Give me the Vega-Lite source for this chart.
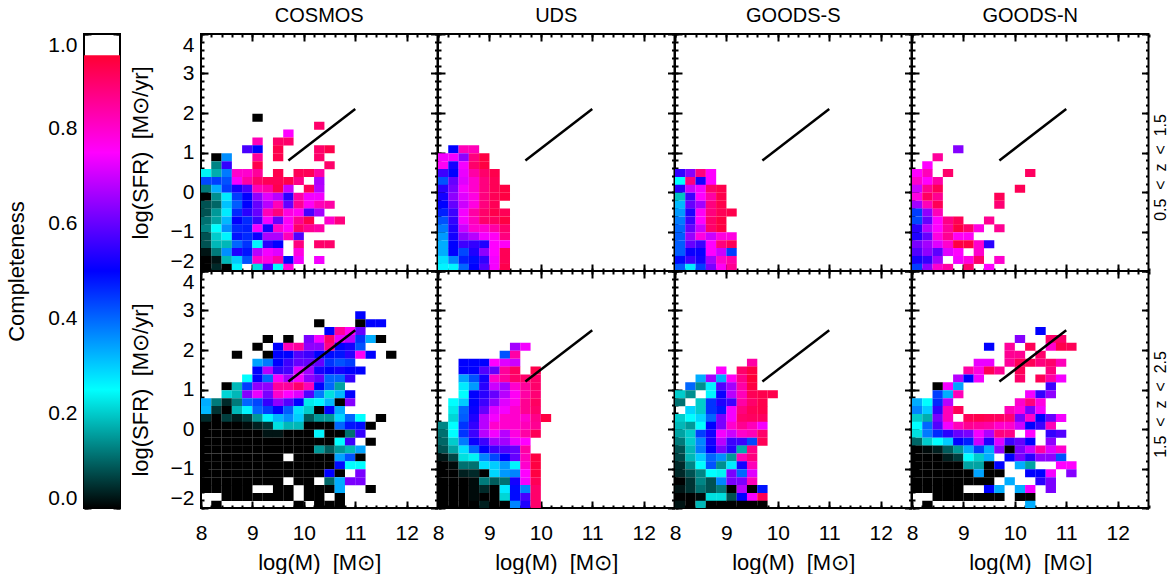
{"$schema":"https://vega.github.io/schema/vega-lite/v6.json","background":"white","padding":{"left":4,"top":5,"right":0,"bottom":0},"config":{"view":{"stroke":"#000","strokeWidth":2},"axis":{"grid":false,"domain":false,"tickColor":"#000","tickWidth":2,"labelFont":"Liberation Sans","labelFontSize":21,"labelColor":"#000","titleFont":"Liberation Sans","titleFontWeight":"normal","titleFontSize":22,"titleColor":"#000","labelOverlap":false,"zindex":1},"title":{"font":"Liberation Sans","fontSize":20,"fontWeight":"normal","color":"#000"}},"datasets":{"o":[{"m":8,"s":0}],"lt":[{"m":9.7,"s":0.8},{"m":11,"s":2.1}],"lb":[{"m":9.7,"s":1.2},{"m":11,"s":2.5}],"bar":[{"a":0,"b":1,"lo":0,"hi":0.955}],
"p1":[{"m":9.1,"s":1.9,"c":0},{"m":10.3,"s":1.7,"c":90},{"m":9.7,"s":1.5,"c":75},{"m":9.1,"s":1.3,"c":82},{"m":9.5,"s":1.3,"c":90},{"m":9.7,"s":1.3,"c":90},{"m":8.9,"s":1.1,"c":57},{"m":9.1,"s":1.1,"c":50},{"m":9.5,"s":1.1,"c":93},{"m":10.3,"s":1.1,"c":90},{"m":10.5,"s":1.1,"c":93},{"m":8.3,"s":0.9,"c":0},{"m":8.5,"s":0.9,"c":36},{"m":9.1,"s":0.9,"c":85},{"m":9.5,"s":0.9,"c":93},{"m":10.3,"s":0.9,"c":90},{"m":8.3,"s":0.7,"c":13},{"m":8.5,"s":0.7,"c":55},{"m":9.1,"s":0.7,"c":93},{"m":10.5,"s":0.7,"c":90},
{"m":8.1,"s":0.5,"c":24},{"m":8.3,"s":0.5,"c":17},{"m":8.5,"s":0.5,"c":38},{"m":8.7,"s":0.5,"c":80},{"m":8.9,"s":0.5,"c":80},{"m":9.1,"s":0.5,"c":85},{"m":9.5,"s":0.5,"c":93},{"m":9.9,"s":0.5,"c":92},{"m":10.1,"s":0.5,"c":92},{"m":10.3,"s":0.5,"c":84},
{"m":8.1,"s":0.3,"c":43},{"m":8.3,"s":0.3,"c":44},{"m":8.5,"s":0.3,"c":42},{"m":8.7,"s":0.3,"c":74},{"m":8.9,"s":0.3,"c":84},{"m":9.1,"s":0.3,"c":90},{"m":9.3,"s":0.3,"c":92},{"m":9.5,"s":0.3,"c":92},{"m":9.7,"s":0.3,"c":93},{"m":9.9,"s":0.3,"c":87},{"m":10.3,"s":0.3,"c":67},
{"m":8.1,"s":0.1,"c":12},{"m":8.3,"s":0.1,"c":33},{"m":8.5,"s":0.1,"c":44},{"m":8.7,"s":0.1,"c":52},{"m":8.9,"s":0.1,"c":57},{"m":9.1,"s":0.1,"c":82},{"m":9.3,"s":0.1,"c":84},{"m":9.5,"s":0.1,"c":93},{"m":9.7,"s":0.1,"c":70},{"m":10.1,"s":0.1,"c":92},{"m":10.3,"s":0.1,"c":68},
{"m":8.1,"s":-0.1,"c":0},{"m":8.3,"s":-0.1,"c":14},{"m":8.5,"s":-0.1,"c":27},{"m":8.7,"s":-0.1,"c":44},{"m":8.9,"s":-0.1,"c":50},{"m":9.1,"s":-0.1,"c":64},{"m":9.3,"s":-0.1,"c":72},{"m":9.5,"s":-0.1,"c":68},{"m":9.7,"s":-0.1,"c":54},{"m":9.9,"s":-0.1,"c":84},{"m":10.1,"s":-0.1,"c":74},{"m":10.3,"s":-0.1,"c":74},
{"m":8.1,"s":-0.3,"c":8},{"m":8.3,"s":-0.3,"c":10},{"m":8.5,"s":-0.3,"c":31},{"m":8.7,"s":-0.3,"c":41},{"m":8.9,"s":-0.3,"c":50},{"m":9.1,"s":-0.3,"c":60},{"m":9.3,"s":-0.3,"c":68},{"m":9.5,"s":-0.3,"c":82},{"m":9.7,"s":-0.3,"c":60},{"m":9.9,"s":-0.3,"c":86},{"m":10.1,"s":-0.3,"c":76},{"m":10.3,"s":-0.3,"c":82},{"m":10.5,"s":-0.3,"c":84},
{"m":8.1,"s":-0.5,"c":8},{"m":8.3,"s":-0.5,"c":15},{"m":8.5,"s":-0.5,"c":27},{"m":8.7,"s":-0.5,"c":46},{"m":8.9,"s":-0.5,"c":54},{"m":9.1,"s":-0.5,"c":60},{"m":9.3,"s":-0.5,"c":82},{"m":9.5,"s":-0.5,"c":88},{"m":9.7,"s":-0.5,"c":78},{"m":9.9,"s":-0.5,"c":76},{"m":10.1,"s":-0.5,"c":57},{"m":10.3,"s":-0.5,"c":66},
{"m":8.1,"s":-0.7,"c":11},{"m":8.3,"s":-0.7,"c":16},{"m":8.5,"s":-0.7,"c":32},{"m":8.7,"s":-0.7,"c":50},{"m":8.9,"s":-0.7,"c":46},{"m":9.1,"s":-0.7,"c":56},{"m":9.3,"s":-0.7,"c":74},{"m":9.5,"s":-0.7,"c":60},{"m":9.7,"s":-0.7,"c":76},{"m":9.9,"s":-0.7,"c":86},{"m":10.1,"s":-0.7,"c":93},{"m":10.5,"s":-0.7,"c":80},{"m":10.7,"s":-0.7,"c":88},
{"m":8.1,"s":-0.9,"c":13},{"m":8.3,"s":-0.9,"c":25},{"m":8.5,"s":-0.9,"c":36},{"m":8.7,"s":-0.9,"c":46},{"m":8.9,"s":-0.9,"c":47},{"m":9.1,"s":-0.9,"c":74},{"m":9.3,"s":-0.9,"c":52},{"m":9.5,"s":-0.9,"c":80},{"m":9.7,"s":-0.9,"c":75},{"m":9.9,"s":-0.9,"c":90},{"m":10.1,"s":-0.9,"c":86},{"m":10.3,"s":-0.9,"c":84},
{"m":8.1,"s":-1.1,"c":8},{"m":8.3,"s":-1.1,"c":20},{"m":8.5,"s":-1.1,"c":26},{"m":8.7,"s":-1.1,"c":48},{"m":8.9,"s":-1.1,"c":46},{"m":9.1,"s":-1.1,"c":51},{"m":9.3,"s":-1.1,"c":67},{"m":9.5,"s":-1.1,"c":67},{"m":9.7,"s":-1.1,"c":82},{"m":9.9,"s":-1.1,"c":58},
{"m":8.1,"s":-1.3,"c":8},{"m":8.3,"s":-1.3,"c":18},{"m":8.5,"s":-1.3,"c":18},{"m":8.7,"s":-1.3,"c":40},{"m":8.9,"s":-1.3,"c":45},{"m":9.1,"s":-1.3,"c":26},{"m":9.3,"s":-1.3,"c":54},{"m":9.5,"s":-1.3,"c":50},{"m":9.9,"s":-1.3,"c":88},{"m":10.3,"s":-1.3,"c":90},{"m":10.5,"s":-1.3,"c":90},
{"m":8.1,"s":-1.5,"c":2},{"m":8.3,"s":-1.5,"c":12},{"m":8.5,"s":-1.5,"c":36},{"m":8.7,"s":-1.5,"c":53},{"m":8.9,"s":-1.5,"c":48},{"m":9.1,"s":-1.5,"c":68},{"m":9.3,"s":-1.5,"c":74},{"m":9.5,"s":-1.5,"c":72},{"m":9.9,"s":-1.5,"c":78},
{"m":8.1,"s":-1.7,"c":0},{"m":8.3,"s":-1.7,"c":2},{"m":8.5,"s":-1.7,"c":18},{"m":8.7,"s":-1.7,"c":30},{"m":8.9,"s":-1.7,"c":42},{"m":9.1,"s":-1.7,"c":80},{"m":9.3,"s":-1.7,"c":78},{"m":9.5,"s":-1.7,"c":84},{"m":9.7,"s":-1.7,"c":49},{"m":9.9,"s":-1.7,"c":74},{"m":10.3,"s":-1.7,"c":74},
{"m":8.1,"s":-1.9,"c":0},{"m":8.3,"s":-1.9,"c":4},{"m":8.5,"s":-1.9,"c":0},{"m":8.7,"s":-1.9,"c":26},{"m":9.1,"s":-1.9,"c":22},{"m":9.3,"s":-1.9,"c":57},{"m":9.5,"s":-1.9,"c":25},{"m":9.7,"s":-1.9,"c":78}],
"p2":[{"m":11.1,"s":2.9,"c":50},{"m":10.3,"s":2.7,"c":0},{"m":11.1,"s":2.7,"c":0},{"m":11.3,"s":2.7,"c":50},{"m":11.5,"s":2.7,"c":50},{"m":10.5,"s":2.5,"c":50},{"m":10.7,"s":2.5,"c":85},{"m":10.9,"s":2.5,"c":76},{"m":11.1,"s":2.5,"c":60},
{"m":9.3,"s":2.3,"c":0},{"m":9.7,"s":2.3,"c":0},{"m":10.1,"s":2.3,"c":62},{"m":10.3,"s":2.3,"c":74},{"m":10.5,"s":2.3,"c":90},{"m":10.7,"s":2.3,"c":73},{"m":10.9,"s":2.3,"c":68},{"m":11.1,"s":2.3,"c":45},{"m":11.3,"s":2.3,"c":33},{"m":11.5,"s":2.3,"c":0},
{"m":9.1,"s":2.1,"c":0},{"m":9.5,"s":2.1,"c":50},{"m":9.7,"s":2.1,"c":82},{"m":9.9,"s":2.1,"c":85},{"m":10.1,"s":2.1,"c":64},{"m":10.3,"s":2.1,"c":64},{"m":10.5,"s":2.1,"c":87},{"m":10.7,"s":2.1,"c":50},{"m":10.9,"s":2.1,"c":52},{"m":11.1,"s":2.1,"c":42},
{"m":8.7,"s":1.9,"c":0},{"m":9.3,"s":1.9,"c":0},{"m":9.5,"s":1.9,"c":50},{"m":9.7,"s":1.9,"c":50},{"m":9.9,"s":1.9,"c":58},{"m":10.1,"s":1.9,"c":56},{"m":10.3,"s":1.9,"c":50},{"m":10.5,"s":1.9,"c":49},{"m":10.7,"s":1.9,"c":48},{"m":10.9,"s":1.9,"c":54},{"m":11.1,"s":1.9,"c":76},{"m":11.3,"s":1.9,"c":50},{"m":11.7,"s":1.9,"c":0},
{"m":9.1,"s":1.7,"c":34},{"m":9.3,"s":1.7,"c":38},{"m":9.5,"s":1.7,"c":50},{"m":9.7,"s":1.7,"c":56},{"m":9.9,"s":1.7,"c":60},{"m":10.1,"s":1.7,"c":60},{"m":10.3,"s":1.7,"c":60},{"m":10.5,"s":1.7,"c":45},{"m":10.7,"s":1.7,"c":42},{"m":10.9,"s":1.7,"c":44},
{"m":9.1,"s":1.5,"c":50},{"m":9.3,"s":1.5,"c":68},{"m":9.5,"s":1.5,"c":55},{"m":9.7,"s":1.5,"c":57},{"m":9.9,"s":1.5,"c":72},{"m":10.1,"s":1.5,"c":66},{"m":10.3,"s":1.5,"c":52},{"m":10.5,"s":1.5,"c":50},{"m":10.7,"s":1.5,"c":52},{"m":10.9,"s":1.5,"c":50},{"m":11.1,"s":1.5,"c":50},
{"m":8.9,"s":1.3,"c":25},{"m":9.1,"s":1.3,"c":50},{"m":9.3,"s":1.3,"c":40},{"m":9.5,"s":1.3,"c":74},{"m":9.7,"s":1.3,"c":66},{"m":9.9,"s":1.3,"c":74},{"m":10.1,"s":1.3,"c":64},{"m":10.3,"s":1.3,"c":60},{"m":10.5,"s":1.3,"c":40},{"m":10.7,"s":1.3,"c":40},{"m":10.9,"s":1.3,"c":55},
{"m":8.5,"s":1.1,"c":0},{"m":8.7,"s":1.1,"c":18},{"m":8.9,"s":1.1,"c":44},{"m":9.1,"s":1.1,"c":64},{"m":9.3,"s":1.1,"c":64},{"m":9.5,"s":1.1,"c":85},{"m":9.7,"s":1.1,"c":85},{"m":9.9,"s":1.1,"c":90},{"m":10.1,"s":1.1,"c":82},{"m":10.3,"s":1.1,"c":50},{"m":10.5,"s":1.1,"c":40},{"m":10.7,"s":1.1,"c":16},
{"m":8.5,"s":0.9,"c":21},{"m":8.7,"s":0.9,"c":18},{"m":8.9,"s":0.9,"c":63},{"m":9.1,"s":0.9,"c":73},{"m":9.3,"s":0.9,"c":62},{"m":9.5,"s":0.9,"c":80},{"m":9.7,"s":0.9,"c":75},{"m":9.9,"s":0.9,"c":72},{"m":10.1,"s":0.9,"c":58},{"m":10.3,"s":0.9,"c":38},{"m":10.5,"s":0.9,"c":22},{"m":10.7,"s":0.9,"c":32},{"m":10.9,"s":0.9,"c":50},
{"m":8.1,"s":0.7,"c":33},{"m":8.3,"s":0.7,"c":12},{"m":8.5,"s":0.7,"c":4},{"m":8.7,"s":0.7,"c":12},{"m":8.9,"s":0.7,"c":40},{"m":9.1,"s":0.7,"c":43},{"m":9.3,"s":0.7,"c":55},{"m":9.5,"s":0.7,"c":64},{"m":9.7,"s":0.7,"c":58},{"m":9.9,"s":0.7,"c":50},{"m":10.1,"s":0.7,"c":23},{"m":10.3,"s":0.7,"c":26},{"m":10.5,"s":0.7,"c":32},{"m":10.7,"s":0.7,"c":0},{"m":10.9,"s":0.7,"c":63},
{"m":8.1,"s":0.5,"c":32},{"m":8.3,"s":0.5,"c":5},{"m":8.5,"s":0.5,"c":0},{"m":8.7,"s":0.5,"c":18},{"m":8.9,"s":0.5,"c":26},{"m":9.1,"s":0.5,"c":40},{"m":9.3,"s":0.5,"c":44},{"m":9.5,"s":0.5,"c":50},{"m":9.7,"s":0.5,"c":41},{"m":9.9,"s":0.5,"c":28},{"m":10.1,"s":0.5,"c":20},{"m":10.3,"s":0.5,"c":0},{"m":10.5,"s":0.5,"c":50},{"m":10.7,"s":0.5,"c":33},
{"m":8.1,"s":0.3,"c":4},{"m":8.3,"s":0.3,"c":0},{"m":8.5,"s":0.3,"c":6},{"m":8.7,"s":0.3,"c":3},{"m":8.9,"s":0.3,"c":6},{"m":9.1,"s":0.3,"c":15},{"m":9.3,"s":0.3,"c":26},{"m":9.5,"s":0.3,"c":32},{"m":9.7,"s":0.3,"c":36},{"m":9.9,"s":0.3,"c":30},{"m":10.1,"s":0.3,"c":9},{"m":10.3,"s":0.3,"c":15},{"m":10.5,"s":0.3,"c":15},{"m":10.7,"s":0.3,"c":29},{"m":10.9,"s":0.3,"c":40},{"m":11.1,"s":0.3,"c":25},{"m":11.5,"s":0.3,"c":0},
{"m":8.1,"s":0.1,"c":0},{"m":8.3,"s":0.1,"c":0},{"m":8.5,"s":0.1,"c":0},{"m":8.7,"s":0.1,"c":0},{"m":8.9,"s":0.1,"c":1},{"m":9.1,"s":0.1,"c":3},{"m":9.3,"s":0.1,"c":5},{"m":9.5,"s":0.1,"c":22},{"m":9.7,"s":0.1,"c":18},{"m":9.9,"s":0.1,"c":18},{"m":10.1,"s":0.1,"c":0},{"m":10.3,"s":0.1,"c":0},{"m":10.5,"s":0.1,"c":0},{"m":10.7,"s":0.1,"c":40},{"m":10.9,"s":0.1,"c":48},{"m":11.1,"s":0.1,"c":49},{"m":11.3,"s":0.1,"c":0},
{"m":8.1,"s":-0.1,"c":0},{"m":8.3,"s":-0.1,"c":0},{"m":8.5,"s":-0.1,"c":0},{"m":8.7,"s":-0.1,"c":0},{"m":8.9,"s":-0.1,"c":0},{"m":9.1,"s":-0.1,"c":0},{"m":9.3,"s":-0.1,"c":2},{"m":9.5,"s":-0.1,"c":2},{"m":9.7,"s":-0.1,"c":0},{"m":9.9,"s":-0.1,"c":0},{"m":10.1,"s":-0.1,"c":0},{"m":10.3,"s":-0.1,"c":26},{"m":10.5,"s":-0.1,"c":0},{"m":10.7,"s":-0.1,"c":0},{"m":10.9,"s":-0.1,"c":11},{"m":11.1,"s":-0.1,"c":55},
{"m":8.1,"s":-0.3,"c":0},{"m":8.3,"s":-0.3,"c":0},{"m":8.5,"s":-0.3,"c":0},{"m":8.7,"s":-0.3,"c":0},{"m":8.9,"s":-0.3,"c":0},{"m":9.1,"s":-0.3,"c":0},{"m":9.3,"s":-0.3,"c":0},{"m":9.5,"s":-0.3,"c":0},{"m":9.7,"s":-0.3,"c":0},{"m":9.9,"s":-0.3,"c":0},{"m":10.1,"s":-0.3,"c":0},{"m":10.3,"s":-0.3,"c":0},{"m":10.5,"s":-0.3,"c":0},{"m":10.7,"s":-0.3,"c":25},{"m":10.9,"s":-0.3,"c":56},{"m":11.3,"s":-0.3,"c":0},
{"m":8.1,"s":-0.5,"c":0},{"m":8.3,"s":-0.5,"c":0},{"m":8.5,"s":-0.5,"c":0},{"m":8.7,"s":-0.5,"c":0},{"m":8.9,"s":-0.5,"c":0},{"m":9.1,"s":-0.5,"c":0},{"m":9.3,"s":-0.5,"c":0},{"m":9.5,"s":-0.5,"c":0},{"m":9.7,"s":-0.5,"c":0},{"m":9.9,"s":-0.5,"c":0},{"m":10.1,"s":-0.5,"c":0},{"m":10.3,"s":-0.5,"c":15},{"m":10.5,"s":-0.5,"c":9},{"m":10.7,"s":-0.5,"c":15},{"m":10.9,"s":-0.5,"c":18},{"m":11.1,"s":-0.5,"c":34},
{"m":8.1,"s":-0.7,"c":0},{"m":8.3,"s":-0.7,"c":0},{"m":8.5,"s":-0.7,"c":0},{"m":8.7,"s":-0.7,"c":0},{"m":8.9,"s":-0.7,"c":0},{"m":9.1,"s":-0.7,"c":0},{"m":9.3,"s":-0.7,"c":0},{"m":9.5,"s":-0.7,"c":0},{"m":9.9,"s":-0.7,"c":0},{"m":10.1,"s":-0.7,"c":0},{"m":10.3,"s":-0.7,"c":0},{"m":10.5,"s":-0.7,"c":0},{"m":10.7,"s":-0.7,"c":34},{"m":10.9,"s":-0.7,"c":42},{"m":11.1,"s":-0.7,"c":0},
{"m":8.1,"s":-0.9,"c":0},{"m":8.3,"s":-0.9,"c":0},{"m":8.5,"s":-0.9,"c":0},{"m":8.7,"s":-0.9,"c":0},{"m":8.9,"s":-0.9,"c":0},{"m":9.1,"s":-0.9,"c":0},{"m":9.3,"s":-0.9,"c":0},{"m":9.5,"s":-0.9,"c":0},{"m":9.7,"s":-0.9,"c":0},{"m":9.9,"s":-0.9,"c":0},{"m":10.1,"s":-0.9,"c":0},{"m":10.3,"s":-0.9,"c":0},{"m":10.5,"s":-0.9,"c":0},{"m":10.7,"s":-0.9,"c":49},{"m":10.9,"s":-0.9,"c":25},{"m":11.1,"s":-0.9,"c":25},
{"m":8.1,"s":-1.1,"c":0},{"m":8.3,"s":-1.1,"c":0},{"m":8.5,"s":-1.1,"c":0},{"m":8.7,"s":-1.1,"c":0},{"m":8.9,"s":-1.1,"c":0},{"m":9.1,"s":-1.1,"c":0},{"m":9.3,"s":-1.1,"c":0},{"m":9.5,"s":-1.1,"c":0},{"m":9.7,"s":-1.1,"c":0},{"m":9.9,"s":-1.1,"c":0},{"m":10.1,"s":-1.1,"c":0},{"m":10.3,"s":-1.1,"c":0},{"m":10.5,"s":-1.1,"c":50},{"m":10.7,"s":-1.1,"c":0},{"m":11.1,"s":-1.1,"c":62},
{"m":8.1,"s":-1.3,"c":0},{"m":8.3,"s":-1.3,"c":0},{"m":8.5,"s":-1.3,"c":0},{"m":8.7,"s":-1.3,"c":0},{"m":8.9,"s":-1.3,"c":0},{"m":9.1,"s":-1.3,"c":0},{"m":9.3,"s":-1.3,"c":0},{"m":9.5,"s":-1.3,"c":0},{"m":9.9,"s":-1.3,"c":0},{"m":10.1,"s":-1.3,"c":0},{"m":10.5,"s":-1.3,"c":10},{"m":10.7,"s":-1.3,"c":33},{"m":10.9,"s":-1.3,"c":62},{"m":11.1,"s":-1.3,"c":62},
{"m":8.1,"s":-1.5,"c":0},{"m":8.3,"s":-1.5,"c":0},{"m":8.5,"s":-1.5,"c":0},{"m":8.7,"s":-1.5,"c":0},{"m":8.9,"s":-1.5,"c":0},{"m":9.5,"s":-1.5,"c":0},{"m":9.7,"s":-1.5,"c":0},{"m":10.1,"s":-1.5,"c":0},{"m":10.3,"s":-1.5,"c":0},{"m":10.5,"s":-1.5,"c":0},{"m":10.7,"s":-1.5,"c":33},{"m":11.3,"s":-1.5,"c":0},
{"m":8.5,"s":-1.7,"c":0},{"m":8.7,"s":-1.7,"c":0},{"m":8.9,"s":-1.7,"c":0},{"m":9.1,"s":-1.7,"c":0},{"m":9.3,"s":-1.7,"c":0},{"m":9.5,"s":-1.7,"c":0},{"m":9.7,"s":-1.7,"c":0},{"m":10.1,"s":-1.7,"c":0},{"m":10.3,"s":-1.7,"c":0},{"m":10.7,"s":-1.7,"c":0},
{"m":8.3,"s":-1.9,"c":0},{"m":9.9,"s":-1.9,"c":0},{"m":10.3,"s":-1.9,"c":0},{"m":10.5,"s":-1.9,"c":0},{"m":10.7,"s":-1.9,"c":0}],
"p3":[{"m":8.3,"s":1.1,"c":50},{"m":8.5,"s":1.1,"c":82},{"m":8.7,"s":1.1,"c":82},{"m":8.1,"s":0.9,"c":74},{"m":8.3,"s":0.9,"c":74},{"m":8.5,"s":0.9,"c":64},{"m":8.7,"s":0.9,"c":88},{"m":8.9,"s":0.9,"c":94},{"m":8.1,"s":0.7,"c":76},{"m":8.3,"s":0.7,"c":52},{"m":8.5,"s":0.7,"c":74},{"m":8.7,"s":0.7,"c":90},{"m":8.9,"s":0.7,"c":94},
{"m":8.1,"s":0.5,"c":56},{"m":8.3,"s":0.5,"c":50},{"m":8.5,"s":0.5,"c":73},{"m":8.7,"s":0.5,"c":84},{"m":8.9,"s":0.5,"c":90},{"m":9.1,"s":0.5,"c":93},{"m":8.1,"s":0.3,"c":42},{"m":8.3,"s":0.3,"c":60},{"m":8.5,"s":0.3,"c":72},{"m":8.7,"s":0.3,"c":80},{"m":8.9,"s":0.3,"c":88},{"m":9.1,"s":0.3,"c":92},
{"m":8.1,"s":0.1,"c":54},{"m":8.3,"s":0.1,"c":62},{"m":8.5,"s":0.1,"c":74},{"m":8.7,"s":0.1,"c":80},{"m":8.9,"s":0.1,"c":88},{"m":9.1,"s":0.1,"c":92},{"m":9.3,"s":0.1,"c":94},{"m":8.1,"s":-0.1,"c":52},{"m":8.3,"s":-0.1,"c":64},{"m":8.5,"s":-0.1,"c":72},{"m":8.7,"s":-0.1,"c":78},{"m":8.9,"s":-0.1,"c":88},{"m":9.1,"s":-0.1,"c":92},{"m":9.3,"s":-0.1,"c":94},
{"m":8.1,"s":-0.3,"c":50},{"m":8.3,"s":-0.3,"c":60},{"m":8.5,"s":-0.3,"c":70},{"m":8.7,"s":-0.3,"c":78},{"m":8.9,"s":-0.3,"c":88},{"m":9.1,"s":-0.3,"c":92},{"m":8.1,"s":-0.5,"c":47},{"m":8.3,"s":-0.5,"c":56},{"m":8.5,"s":-0.5,"c":74},{"m":8.7,"s":-0.5,"c":84},{"m":8.9,"s":-0.5,"c":90},{"m":9.1,"s":-0.5,"c":93},{"m":9.3,"s":-0.5,"c":92},
{"m":8.1,"s":-0.7,"c":42},{"m":8.3,"s":-0.7,"c":55},{"m":8.5,"s":-0.7,"c":74},{"m":8.7,"s":-0.7,"c":82},{"m":8.9,"s":-0.7,"c":90},{"m":9.1,"s":-0.7,"c":91},{"m":9.3,"s":-0.7,"c":94},{"m":8.1,"s":-0.9,"c":38},{"m":8.3,"s":-0.9,"c":53},{"m":8.5,"s":-0.9,"c":70},{"m":8.7,"s":-0.9,"c":80},{"m":8.9,"s":-0.9,"c":80},{"m":9.1,"s":-0.9,"c":84},{"m":9.3,"s":-0.9,"c":90},
{"m":8.1,"s":-1.1,"c":35},{"m":8.3,"s":-1.1,"c":52},{"m":8.5,"s":-1.1,"c":64},{"m":8.7,"s":-1.1,"c":68},{"m":8.9,"s":-1.1,"c":74},{"m":9.1,"s":-1.1,"c":76},{"m":9.3,"s":-1.1,"c":88},{"m":8.1,"s":-1.3,"c":33},{"m":8.3,"s":-1.3,"c":50},{"m":8.5,"s":-1.3,"c":56},{"m":8.7,"s":-1.3,"c":55},{"m":8.9,"s":-1.3,"c":53},{"m":9.1,"s":-1.3,"c":75},{"m":9.3,"s":-1.3,"c":76},
{"m":8.1,"s":-1.5,"c":33},{"m":8.3,"s":-1.5,"c":50},{"m":8.5,"s":-1.5,"c":43},{"m":8.7,"s":-1.5,"c":53},{"m":8.9,"s":-1.5,"c":64},{"m":9.1,"s":-1.5,"c":75},{"m":9.3,"s":-1.5,"c":92},{"m":8.1,"s":-1.7,"c":28},{"m":8.3,"s":-1.7,"c":37},{"m":8.5,"s":-1.7,"c":47},{"m":8.7,"s":-1.7,"c":49},{"m":8.9,"s":-1.7,"c":55},{"m":9.1,"s":-1.7,"c":74},{"m":9.3,"s":-1.7,"c":92},
{"m":8.1,"s":-1.9,"c":26},{"m":8.3,"s":-1.9,"c":26},{"m":8.5,"s":-1.9,"c":40},{"m":8.7,"s":-1.9,"c":50},{"m":8.9,"s":-1.9,"c":58},{"m":9.1,"s":-1.9,"c":74},{"m":9.3,"s":-1.9,"c":93}],
"p4":[{"m":9.5,"s":2.1,"c":66},{"m":9.7,"s":2.1,"c":74},{"m":9.3,"s":1.9,"c":42},{"m":9.5,"s":1.9,"c":84},{"m":8.5,"s":1.7,"c":50},{"m":8.7,"s":1.7,"c":50},{"m":8.9,"s":1.7,"c":50},{"m":9.1,"s":1.7,"c":75},{"m":9.3,"s":1.7,"c":72},{"m":9.5,"s":1.7,"c":70},
{"m":8.5,"s":1.5,"c":50},{"m":8.7,"s":1.5,"c":50},{"m":8.9,"s":1.5,"c":58},{"m":9.1,"s":1.5,"c":60},{"m":9.3,"s":1.5,"c":85},{"m":9.5,"s":1.5,"c":91},{"m":9.9,"s":1.5,"c":93},{"m":8.5,"s":1.3,"c":34},{"m":8.7,"s":1.3,"c":42},{"m":8.9,"s":1.3,"c":52},{"m":9.1,"s":1.3,"c":80},{"m":9.3,"s":1.3,"c":85},{"m":9.5,"s":1.3,"c":90},{"m":9.7,"s":1.3,"c":90},{"m":9.9,"s":1.3,"c":90},
{"m":8.5,"s":1.1,"c":27},{"m":8.7,"s":1.1,"c":35},{"m":8.9,"s":1.1,"c":54},{"m":9.1,"s":1.1,"c":70},{"m":9.3,"s":1.1,"c":66},{"m":9.5,"s":1.1,"c":80},{"m":9.7,"s":1.1,"c":85},{"m":9.9,"s":1.1,"c":90},{"m":8.5,"s":0.9,"c":25},{"m":8.7,"s":0.9,"c":50},{"m":8.9,"s":0.9,"c":54},{"m":9.1,"s":0.9,"c":60},{"m":9.3,"s":0.9,"c":68},{"m":9.5,"s":0.9,"c":76},{"m":9.7,"s":0.9,"c":84},{"m":9.9,"s":0.9,"c":89},
{"m":8.3,"s":0.7,"c":25},{"m":8.5,"s":0.7,"c":30},{"m":8.7,"s":0.7,"c":50},{"m":8.9,"s":0.7,"c":56},{"m":9.1,"s":0.7,"c":64},{"m":9.3,"s":0.7,"c":72},{"m":9.5,"s":0.7,"c":77},{"m":9.7,"s":0.7,"c":86},{"m":9.9,"s":0.7,"c":91},{"m":8.3,"s":0.5,"c":23},{"m":8.5,"s":0.5,"c":40},{"m":8.7,"s":0.5,"c":51},{"m":8.9,"s":0.5,"c":60},{"m":9.1,"s":0.5,"c":72},{"m":9.3,"s":0.5,"c":74},{"m":9.5,"s":0.5,"c":80},{"m":9.7,"s":0.5,"c":86},{"m":9.9,"s":0.5,"c":90},
{"m":8.3,"s":0.3,"c":21},{"m":8.5,"s":0.3,"c":41},{"m":8.7,"s":0.3,"c":53},{"m":8.9,"s":0.3,"c":68},{"m":9.1,"s":0.3,"c":74},{"m":9.3,"s":0.3,"c":80},{"m":9.5,"s":0.3,"c":80},{"m":9.7,"s":0.3,"c":80},{"m":9.9,"s":0.3,"c":87},{"m":10.1,"s":0.3,"c":94},
{"m":8.1,"s":0.1,"c":13},{"m":8.3,"s":0.1,"c":25},{"m":8.5,"s":0.1,"c":45},{"m":8.7,"s":0.1,"c":55},{"m":8.9,"s":0.1,"c":68},{"m":9.1,"s":0.1,"c":80},{"m":9.3,"s":0.1,"c":80},{"m":9.5,"s":0.1,"c":80},{"m":9.7,"s":0.1,"c":82},{"m":9.9,"s":0.1,"c":86},
{"m":8.1,"s":-0.1,"c":11},{"m":8.3,"s":-0.1,"c":25},{"m":8.5,"s":-0.1,"c":45},{"m":8.7,"s":-0.1,"c":56},{"m":8.9,"s":-0.1,"c":68},{"m":9.1,"s":-0.1,"c":74},{"m":9.3,"s":-0.1,"c":68},{"m":9.5,"s":-0.1,"c":78},{"m":9.7,"s":-0.1,"c":84},{"m":9.9,"s":-0.1,"c":92},
{"m":8.1,"s":-0.3,"c":10},{"m":8.3,"s":-0.3,"c":20},{"m":8.5,"s":-0.3,"c":38},{"m":8.7,"s":-0.3,"c":51},{"m":8.9,"s":-0.3,"c":56},{"m":9.1,"s":-0.3,"c":66},{"m":9.3,"s":-0.3,"c":66},{"m":9.5,"s":-0.3,"c":73},{"m":9.7,"s":-0.3,"c":75},
{"m":8.1,"s":-0.5,"c":8},{"m":8.3,"s":-0.5,"c":16},{"m":8.5,"s":-0.5,"c":28},{"m":8.7,"s":-0.5,"c":40},{"m":8.9,"s":-0.5,"c":50},{"m":9.1,"s":-0.5,"c":56},{"m":9.3,"s":-0.5,"c":58},{"m":9.5,"s":-0.5,"c":60},{"m":9.7,"s":-0.5,"c":84},
{"m":8.1,"s":-0.7,"c":2},{"m":8.3,"s":-0.7,"c":7},{"m":8.5,"s":-0.7,"c":22},{"m":8.7,"s":-0.7,"c":24},{"m":8.9,"s":-0.7,"c":37},{"m":9.1,"s":-0.7,"c":43},{"m":9.3,"s":-0.7,"c":50},{"m":9.5,"s":-0.7,"c":60},{"m":9.7,"s":-0.7,"c":82},{"m":9.9,"s":-0.7,"c":94},
{"m":8.1,"s":-0.9,"c":0},{"m":8.3,"s":-0.9,"c":1},{"m":8.5,"s":-0.9,"c":11},{"m":8.7,"s":-0.9,"c":11},{"m":8.9,"s":-0.9,"c":28},{"m":9.1,"s":-0.9,"c":30},{"m":9.3,"s":-0.9,"c":35},{"m":9.5,"s":-0.9,"c":26},{"m":9.7,"s":-0.9,"c":80},{"m":9.9,"s":-0.9,"c":94},
{"m":8.1,"s":-1.1,"c":0},{"m":8.3,"s":-1.1,"c":0},{"m":8.5,"s":-1.1,"c":3},{"m":8.7,"s":-1.1,"c":4},{"m":8.9,"s":-1.1,"c":0},{"m":9.1,"s":-1.1,"c":29},{"m":9.3,"s":-1.1,"c":35},{"m":9.5,"s":-1.1,"c":37},{"m":9.7,"s":-1.1,"c":75},{"m":9.9,"s":-1.1,"c":94},
{"m":8.1,"s":-1.3,"c":0},{"m":8.3,"s":-1.3,"c":0},{"m":8.5,"s":-1.3,"c":0},{"m":8.7,"s":-1.3,"c":1},{"m":8.9,"s":-1.3,"c":12},{"m":9.1,"s":-1.3,"c":9},{"m":9.3,"s":-1.3,"c":11},{"m":9.5,"s":-1.3,"c":52},{"m":9.7,"s":-1.3,"c":74},{"m":9.9,"s":-1.3,"c":92},
{"m":8.1,"s":-1.5,"c":0},{"m":8.3,"s":-1.5,"c":0},{"m":8.5,"s":-1.5,"c":0},{"m":8.7,"s":-1.5,"c":1},{"m":8.9,"s":-1.5,"c":4},{"m":9.1,"s":-1.5,"c":0},{"m":9.3,"s":-1.5,"c":27},{"m":9.5,"s":-1.5,"c":49},{"m":9.7,"s":-1.5,"c":37},{"m":9.9,"s":-1.5,"c":90},
{"m":8.1,"s":-1.7,"c":0},{"m":8.3,"s":-1.7,"c":0},{"m":8.5,"s":-1.7,"c":0},{"m":8.7,"s":-1.7,"c":1},{"m":8.9,"s":-1.7,"c":0},{"m":9.1,"s":-1.7,"c":0},{"m":9.3,"s":-1.7,"c":21},{"m":9.5,"s":-1.7,"c":49},{"m":9.7,"s":-1.7,"c":57},{"m":9.9,"s":-1.7,"c":90},
{"m":8.1,"s":-1.9,"c":0},{"m":8.3,"s":-1.9,"c":0},{"m":8.5,"s":-1.9,"c":0},{"m":8.7,"s":-1.9,"c":0},{"m":8.9,"s":-1.9,"c":3},{"m":9.1,"s":-1.9,"c":0},{"m":9.3,"s":-1.9,"c":0},{"m":9.5,"s":-1.9,"c":37},{"m":9.7,"s":-1.9,"c":53},{"m":9.9,"s":-1.9,"c":90}],
"p5":[{"m":8.1,"s":0.5,"c":55},{"m":8.3,"s":0.5,"c":63},{"m":8.5,"s":0.5,"c":88},{"m":8.7,"s":0.5,"c":75},{"m":8.1,"s":0.3,"c":25},{"m":8.3,"s":0.3,"c":88},{"m":8.5,"s":0.3,"c":52},{"m":8.7,"s":0.3,"c":75},{"m":8.1,"s":0.1,"c":54},{"m":8.3,"s":0.1,"c":70},{"m":8.5,"s":0.1,"c":74},{"m":8.7,"s":0.1,"c":90},{"m":8.9,"s":0.1,"c":93},{"m":8.1,"s":-0.1,"c":19},{"m":8.3,"s":-0.1,"c":56},{"m":8.5,"s":-0.1,"c":75},{"m":8.7,"s":-0.1,"c":84},{"m":8.9,"s":-0.1,"c":93},
{"m":8.1,"s":-0.3,"c":32},{"m":8.3,"s":-0.3,"c":60},{"m":8.5,"s":-0.3,"c":66},{"m":8.7,"s":-0.3,"c":88},{"m":8.9,"s":-0.3,"c":93},{"m":8.1,"s":-0.5,"c":35},{"m":8.3,"s":-0.5,"c":53},{"m":8.5,"s":-0.5,"c":76},{"m":8.7,"s":-0.5,"c":88},{"m":8.9,"s":-0.5,"c":92},{"m":9.1,"s":-0.5,"c":93},{"m":8.1,"s":-0.7,"c":38},{"m":8.3,"s":-0.7,"c":56},{"m":8.5,"s":-0.7,"c":75},{"m":8.7,"s":-0.7,"c":90},{"m":8.9,"s":-0.7,"c":94},
{"m":8.1,"s":-0.9,"c":40},{"m":8.3,"s":-0.9,"c":60},{"m":8.5,"s":-0.9,"c":70},{"m":8.7,"s":-0.9,"c":90},{"m":8.9,"s":-0.9,"c":94},{"m":8.1,"s":-1.1,"c":41},{"m":8.3,"s":-1.1,"c":65},{"m":8.5,"s":-1.1,"c":78},{"m":8.7,"s":-1.1,"c":70},{"m":8.9,"s":-1.1,"c":78},{"m":9.1,"s":-1.1,"c":78},{"m":8.1,"s":-1.3,"c":41},{"m":8.3,"s":-1.3,"c":60},{"m":8.5,"s":-1.3,"c":56},{"m":8.7,"s":-1.3,"c":75},{"m":8.9,"s":-1.3,"c":88},{"m":9.1,"s":-1.3,"c":92},
{"m":8.1,"s":-1.5,"c":41},{"m":8.3,"s":-1.5,"c":51},{"m":8.5,"s":-1.5,"c":51},{"m":8.7,"s":-1.5,"c":75},{"m":8.9,"s":-1.5,"c":70},{"m":9.1,"s":-1.5,"c":44},{"m":8.1,"s":-1.7,"c":49},{"m":8.3,"s":-1.7,"c":56},{"m":8.5,"s":-1.7,"c":52},{"m":8.7,"s":-1.7,"c":66},{"m":8.9,"s":-1.7,"c":80},{"m":9.1,"s":-1.7,"c":84},{"m":8.1,"s":-1.9,"c":41},{"m":8.3,"s":-1.9,"c":27},{"m":8.5,"s":-1.9,"c":44},{"m":8.7,"s":-1.9,"c":62},{"m":8.9,"s":-1.9,"c":76},{"m":9.1,"s":-1.9,"c":86}],
"p6":[{"m":9.5,"s":1.7,"c":84},{"m":8.9,"s":1.5,"c":75},{"m":9.3,"s":1.5,"c":90},{"m":9.5,"s":1.5,"c":94},{"m":8.5,"s":1.3,"c":33},{"m":8.7,"s":1.3,"c":66},{"m":8.9,"s":1.3,"c":33},{"m":9.1,"s":1.3,"c":76},{"m":9.3,"s":1.3,"c":87},{"m":9.5,"s":1.3,"c":95},{"m":8.3,"s":1.1,"c":40},{"m":8.5,"s":1.1,"c":14},{"m":8.7,"s":1.1,"c":26},{"m":8.9,"s":1.1,"c":58},{"m":9.1,"s":1.1,"c":66},{"m":9.3,"s":1.1,"c":84},{"m":9.5,"s":1.1,"c":94},
{"m":8.1,"s":0.9,"c":20},{"m":8.3,"s":0.9,"c":14},{"m":8.7,"s":0.9,"c":26},{"m":8.9,"s":0.9,"c":51},{"m":9.1,"s":0.9,"c":68},{"m":9.3,"s":0.9,"c":82},{"m":9.5,"s":0.9,"c":92},{"m":9.7,"s":0.9,"c":93},{"m":9.9,"s":0.9,"c":93},{"m":8.1,"s":0.7,"c":11},{"m":8.5,"s":0.7,"c":20},{"m":8.7,"s":0.7,"c":45},{"m":8.9,"s":0.7,"c":53},{"m":9.1,"s":0.7,"c":56},{"m":9.3,"s":0.7,"c":84},{"m":9.5,"s":0.7,"c":90},{"m":9.7,"s":0.7,"c":93},
{"m":8.3,"s":0.5,"c":29},{"m":8.5,"s":0.5,"c":20},{"m":8.7,"s":0.5,"c":45},{"m":8.9,"s":0.5,"c":48},{"m":9.1,"s":0.5,"c":74},{"m":9.3,"s":0.5,"c":88},{"m":9.5,"s":0.5,"c":92},{"m":9.7,"s":0.5,"c":93},{"m":8.1,"s":0.3,"c":20},{"m":8.3,"s":0.3,"c":25},{"m":8.5,"s":0.3,"c":29},{"m":8.7,"s":0.3,"c":40},{"m":8.9,"s":0.3,"c":62},{"m":9.1,"s":0.3,"c":74},{"m":9.3,"s":0.3,"c":90},{"m":9.5,"s":0.3,"c":91},{"m":9.7,"s":0.3,"c":91},
{"m":8.1,"s":0.1,"c":18},{"m":8.3,"s":0.1,"c":15},{"m":8.5,"s":0.1,"c":25},{"m":8.7,"s":0.1,"c":50},{"m":8.9,"s":0.1,"c":62},{"m":9.1,"s":0.1,"c":80},{"m":9.3,"s":0.1,"c":86},{"m":9.5,"s":0.1,"c":82},{"m":9.7,"s":0.1,"c":74},{"m":8.1,"s":-0.1,"c":16},{"m":8.3,"s":-0.1,"c":20},{"m":8.5,"s":-0.1,"c":44},{"m":8.7,"s":-0.1,"c":52},{"m":8.9,"s":-0.1,"c":74},{"m":9.1,"s":-0.1,"c":70},{"m":9.3,"s":-0.1,"c":80},{"m":9.5,"s":-0.1,"c":82},{"m":9.7,"s":-0.1,"c":90},
{"m":8.1,"s":-0.3,"c":12},{"m":8.3,"s":-0.3,"c":20},{"m":8.5,"s":-0.3,"c":37},{"m":8.7,"s":-0.3,"c":52},{"m":8.9,"s":-0.3,"c":68},{"m":9.1,"s":-0.3,"c":56},{"m":9.3,"s":-0.3,"c":56},{"m":9.5,"s":-0.3,"c":43},{"m":9.7,"s":-0.3,"c":92},{"m":8.1,"s":-0.5,"c":8},{"m":8.3,"s":-0.5,"c":18},{"m":8.5,"s":-0.5,"c":38},{"m":8.7,"s":-0.5,"c":50},{"m":8.9,"s":-0.5,"c":62},{"m":9.1,"s":-0.5,"c":54},{"m":9.3,"s":-0.5,"c":17},{"m":9.5,"s":-0.5,"c":87},
{"m":8.1,"s":-0.7,"c":7},{"m":8.3,"s":-0.7,"c":18},{"m":8.5,"s":-0.7,"c":30},{"m":8.7,"s":-0.7,"c":40},{"m":8.9,"s":-0.7,"c":36},{"m":9.1,"s":-0.7,"c":15},{"m":9.3,"s":-0.7,"c":82},{"m":9.5,"s":-0.7,"c":88},{"m":8.1,"s":-0.9,"c":4},{"m":8.3,"s":-0.9,"c":13},{"m":8.5,"s":-0.9,"c":25},{"m":8.7,"s":-0.9,"c":42},{"m":8.9,"s":-0.9,"c":14},{"m":9.1,"s":-0.9,"c":27},{"m":9.3,"s":-0.9,"c":52},{"m":9.5,"s":-0.9,"c":82},
{"m":8.1,"s":-1.1,"c":4},{"m":8.3,"s":-1.1,"c":8},{"m":8.5,"s":-1.1,"c":13},{"m":8.7,"s":-1.1,"c":25},{"m":8.9,"s":-1.1,"c":24},{"m":9.1,"s":-1.1,"c":62},{"m":9.3,"s":-1.1,"c":40},{"m":9.5,"s":-1.1,"c":72},{"m":8.1,"s":-1.3,"c":0},{"m":8.3,"s":-1.3,"c":5},{"m":8.5,"s":-1.3,"c":13},{"m":8.7,"s":-1.3,"c":8},{"m":8.9,"s":-1.3,"c":37},{"m":9.1,"s":-1.3,"c":62},{"m":9.3,"s":-1.3,"c":62},{"m":9.5,"s":-1.3,"c":82},
{"m":8.1,"s":-1.5,"c":2},{"m":8.3,"s":-1.5,"c":5},{"m":8.5,"s":-1.5,"c":11},{"m":8.7,"s":-1.5,"c":8},{"m":8.9,"s":-1.5,"c":12},{"m":9.1,"s":-1.5,"c":0},{"m":9.3,"s":-1.5,"c":68},{"m":9.5,"s":-1.5,"c":0},{"m":9.7,"s":-1.5,"c":48},{"m":8.1,"s":-1.7,"c":0},{"m":8.3,"s":-1.7,"c":0},{"m":8.5,"s":-1.7,"c":1},{"m":8.7,"s":-1.7,"c":22},{"m":8.9,"s":-1.7,"c":22},{"m":9.1,"s":-1.7,"c":8},{"m":9.3,"s":-1.7,"c":50},{"m":9.5,"s":-1.7,"c":74},{"m":9.7,"s":-1.7,"c":92},
{"m":8.1,"s":-1.9,"c":2},{"m":8.3,"s":-1.9,"c":0},{"m":8.5,"s":-1.9,"c":18},{"m":8.7,"s":-1.9,"c":0},{"m":8.9,"s":-1.9,"c":0},{"m":9.1,"s":-1.9,"c":0},{"m":9.3,"s":-1.9,"c":0},{"m":9.5,"s":-1.9,"c":0},{"m":9.7,"s":-1.9,"c":0}],
"p7":[{"m":8.9,"s":1.1,"c":63},{"m":8.5,"s":0.9,"c":85},{"m":8.3,"s":0.7,"c":75},{"m":8.1,"s":0.5,"c":75},{"m":8.3,"s":0.5,"c":82},{"m":8.7,"s":0.5,"c":90},{"m":10.3,"s":0.5,"c":91},{"m":8.1,"s":0.3,"c":80},{"m":8.3,"s":0.3,"c":75},{"m":8.5,"s":0.3,"c":84},{"m":8.1,"s":0.1,"c":70},{"m":8.3,"s":0.1,"c":86},{"m":8.5,"s":0.1,"c":92},{"m":10.1,"s":0.1,"c":92},{"m":8.1,"s":-0.1,"c":78},{"m":8.3,"s":-0.1,"c":91},{"m":8.5,"s":-0.1,"c":86},{"m":9.7,"s":-0.1,"c":92},{"m":8.1,"s":-0.3,"c":66},{"m":8.3,"s":-0.3,"c":82},{"m":8.5,"s":-0.3,"c":92},{"m":9.7,"s":-0.3,"c":89},
{"m":8.1,"s":-0.5,"c":44},{"m":8.3,"s":-0.5,"c":64},{"m":8.5,"s":-0.5,"c":82},{"m":8.1,"s":-0.7,"c":43},{"m":8.3,"s":-0.7,"c":60},{"m":8.5,"s":-0.7,"c":75},{"m":8.7,"s":-0.7,"c":87},{"m":8.9,"s":-0.7,"c":92},{"m":9.5,"s":-0.7,"c":86},{"m":8.1,"s":-0.9,"c":54},{"m":8.3,"s":-0.9,"c":68},{"m":8.5,"s":-0.9,"c":75},{"m":8.7,"s":-0.9,"c":85},{"m":8.9,"s":-0.9,"c":94},{"m":9.1,"s":-0.9,"c":90},{"m":9.3,"s":-0.9,"c":78},{"m":9.7,"s":-0.9,"c":86},
{"m":8.1,"s":-1.1,"c":53},{"m":8.3,"s":-1.1,"c":60},{"m":8.5,"s":-1.1,"c":78},{"m":8.7,"s":-1.1,"c":86},{"m":8.9,"s":-1.1,"c":76},{"m":9.1,"s":-1.1,"c":76},{"m":8.1,"s":-1.3,"c":62},{"m":8.3,"s":-1.3,"c":66},{"m":8.5,"s":-1.3,"c":72},{"m":8.7,"s":-1.3,"c":80},{"m":8.9,"s":-1.3,"c":94},{"m":9.1,"s":-1.3,"c":94},{"m":9.3,"s":-1.3,"c":80},{"m":9.5,"s":-1.3,"c":54},
{"m":8.1,"s":-1.5,"c":58},{"m":8.3,"s":-1.5,"c":64},{"m":8.5,"s":-1.5,"c":59},{"m":8.7,"s":-1.5,"c":72},{"m":8.9,"s":-1.5,"c":75},{"m":9.3,"s":-1.5,"c":80},{"m":8.1,"s":-1.7,"c":52},{"m":8.3,"s":-1.7,"c":55},{"m":8.5,"s":-1.7,"c":66},{"m":8.9,"s":-1.7,"c":74},{"m":9.1,"s":-1.7,"c":78},{"m":9.3,"s":-1.7,"c":90},{"m":9.7,"s":-1.7,"c":80},{"m":8.1,"s":-1.9,"c":44},{"m":8.3,"s":-1.9,"c":64},{"m":8.5,"s":-1.9,"c":80},{"m":8.7,"s":-1.9,"c":84},{"m":9.1,"s":-1.9,"c":90},{"m":9.5,"s":-1.9,"c":75}],
"p8":[{"m":10.5,"s":2.5,"c":50},{"m":10.1,"s":2.3,"c":63},{"m":10.7,"s":2.3,"c":90},{"m":10.9,"s":2.3,"c":90},{"m":9.5,"s":2.1,"c":50},{"m":9.9,"s":2.1,"c":85},{"m":10.3,"s":2.1,"c":92},{"m":10.7,"s":2.1,"c":80},{"m":10.9,"s":2.1,"c":93},{"m":11.1,"s":2.1,"c":92},{"m":9.9,"s":1.9,"c":86},{"m":10.1,"s":1.9,"c":86},{"m":10.5,"s":1.9,"c":90},
{"m":9.3,"s":1.7,"c":73},{"m":9.5,"s":1.7,"c":73},{"m":9.9,"s":1.7,"c":85},{"m":10.1,"s":1.7,"c":92},{"m":10.3,"s":1.7,"c":92},{"m":10.5,"s":1.7,"c":88},{"m":10.7,"s":1.7,"c":90},{"m":10.9,"s":1.7,"c":82},{"m":9.1,"s":1.5,"c":84},{"m":9.3,"s":1.5,"c":78},{"m":9.5,"s":1.5,"c":92},{"m":9.7,"s":1.5,"c":86},{"m":10.1,"s":1.5,"c":92},{"m":10.7,"s":1.5,"c":88},
{"m":8.9,"s":1.3,"c":68},{"m":9.1,"s":1.3,"c":50},{"m":9.3,"s":1.3,"c":74},{"m":10.1,"s":1.3,"c":90},{"m":10.5,"s":1.3,"c":92},{"m":10.7,"s":1.3,"c":84},{"m":10.9,"s":1.3,"c":74},{"m":8.5,"s":1.1,"c":0},{"m":8.7,"s":1.1,"c":74},{"m":8.9,"s":1.1,"c":34},{"m":10.7,"s":1.1,"c":56},{"m":8.5,"s":0.9,"c":44},{"m":8.7,"s":0.9,"c":33},{"m":8.9,"s":0.9,"c":82},{"m":10.3,"s":0.9,"c":74},{"m":10.5,"s":0.9,"c":55},{"m":10.7,"s":0.9,"c":64},
{"m":8.1,"s":0.7,"c":33},{"m":8.3,"s":0.7,"c":25},{"m":8.5,"s":0.7,"c":46},{"m":8.7,"s":0.7,"c":68},{"m":10.1,"s":0.7,"c":80},{"m":10.3,"s":0.7,"c":88},{"m":10.5,"s":0.7,"c":78},{"m":8.1,"s":0.5,"c":37},{"m":8.3,"s":0.5,"c":30},{"m":8.5,"s":0.5,"c":55},{"m":8.7,"s":0.5,"c":82},{"m":8.9,"s":0.5,"c":92},{"m":9.9,"s":0.5,"c":82},{"m":10.1,"s":0.5,"c":78},{"m":10.3,"s":0.5,"c":62},{"m":10.5,"s":0.5,"c":74},
{"m":8.1,"s":0.3,"c":20},{"m":8.3,"s":0.3,"c":17},{"m":8.5,"s":0.3,"c":62},{"m":8.7,"s":0.3,"c":82},{"m":9.1,"s":0.3,"c":92},{"m":9.3,"s":0.3,"c":93},{"m":9.5,"s":0.3,"c":92},{"m":9.7,"s":0.3,"c":91},{"m":9.9,"s":0.3,"c":89},{"m":10.1,"s":0.3,"c":62},{"m":10.3,"s":0.3,"c":80},{"m":10.5,"s":0.3,"c":50},{"m":10.7,"s":0.3,"c":60},{"m":10.9,"s":0.3,"c":74},
{"m":8.1,"s":0.1,"c":25},{"m":8.3,"s":0.1,"c":40},{"m":8.5,"s":0.1,"c":58},{"m":8.7,"s":0.1,"c":74},{"m":8.9,"s":0.1,"c":82},{"m":9.1,"s":0.1,"c":86},{"m":9.3,"s":0.1,"c":85},{"m":9.5,"s":0.1,"c":84},{"m":9.7,"s":0.1,"c":80},{"m":9.9,"s":0.1,"c":80},{"m":10.1,"s":0.1,"c":70},{"m":10.3,"s":0.1,"c":50},{"m":10.5,"s":0.1,"c":56},{"m":10.7,"s":0.1,"c":82},
{"m":8.1,"s":-0.1,"c":22},{"m":8.3,"s":-0.1,"c":38},{"m":8.5,"s":-0.1,"c":46},{"m":8.7,"s":-0.1,"c":54},{"m":8.9,"s":-0.1,"c":60},{"m":9.1,"s":-0.1,"c":62},{"m":9.3,"s":-0.1,"c":74},{"m":9.5,"s":-0.1,"c":67},{"m":9.7,"s":-0.1,"c":88},{"m":9.9,"s":-0.1,"c":87},{"m":10.3,"s":-0.1,"c":75},{"m":10.7,"s":-0.1,"c":55},{"m":10.9,"s":-0.1,"c":58},
{"m":8.1,"s":-0.3,"c":10},{"m":8.3,"s":-0.3,"c":20},{"m":8.5,"s":-0.3,"c":25},{"m":8.7,"s":-0.3,"c":30},{"m":8.9,"s":-0.3,"c":50},{"m":9.1,"s":-0.3,"c":47},{"m":9.3,"s":-0.3,"c":70},{"m":9.5,"s":-0.3,"c":53},{"m":9.7,"s":-0.3,"c":72},{"m":9.9,"s":-0.3,"c":56},{"m":10.1,"s":-0.3,"c":60},{"m":10.3,"s":-0.3,"c":50},{"m":10.7,"s":-0.3,"c":64},
{"m":8.1,"s":-0.5,"c":0},{"m":8.3,"s":-0.5,"c":1},{"m":8.5,"s":-0.5,"c":3},{"m":8.7,"s":-0.5,"c":9},{"m":8.9,"s":-0.5,"c":15},{"m":9.1,"s":-0.5,"c":33},{"m":9.3,"s":-0.5,"c":44},{"m":9.5,"s":-0.5,"c":33},{"m":9.7,"s":-0.5,"c":64},{"m":9.9,"s":-0.5,"c":0},{"m":10.1,"s":-0.5,"c":62},{"m":10.3,"s":-0.5,"c":70},{"m":10.5,"s":-0.5,"c":84},{"m":10.7,"s":-0.5,"c":72},{"m":10.9,"s":-0.5,"c":80},
{"m":8.1,"s":-0.7,"c":0},{"m":8.3,"s":-0.7,"c":0},{"m":8.5,"s":-0.7,"c":0},{"m":8.7,"s":-0.7,"c":3},{"m":8.9,"s":-0.7,"c":6},{"m":9.1,"s":-0.7,"c":25},{"m":9.3,"s":-0.7,"c":20},{"m":9.5,"s":-0.7,"c":33},{"m":9.9,"s":-0.7,"c":50},{"m":10.1,"s":-0.7,"c":62},{"m":10.3,"s":-0.7,"c":54},{"m":10.5,"s":-0.7,"c":64},{"m":10.7,"s":-0.7,"c":64},{"m":10.9,"s":-0.7,"c":42},
{"m":8.1,"s":-0.9,"c":0},{"m":8.3,"s":-0.9,"c":0},{"m":8.5,"s":-0.9,"c":0},{"m":8.7,"s":-0.9,"c":0},{"m":8.9,"s":-0.9,"c":0},{"m":9.1,"s":-0.9,"c":16},{"m":9.3,"s":-0.9,"c":16},{"m":9.5,"s":-0.9,"c":0},{"m":9.7,"s":-0.9,"c":50},{"m":10.1,"s":-0.9,"c":33},{"m":10.3,"s":-0.9,"c":16},{"m":10.9,"s":-0.9,"c":75},{"m":11.1,"s":-0.9,"c":75},
{"m":8.1,"s":-1.1,"c":0},{"m":8.3,"s":-1.1,"c":0},{"m":8.5,"s":-1.1,"c":0},{"m":8.7,"s":-1.1,"c":0},{"m":8.9,"s":-1.1,"c":0},{"m":9.1,"s":-1.1,"c":0},{"m":9.3,"s":-1.1,"c":34},{"m":9.5,"s":-1.1,"c":0},{"m":9.7,"s":-1.1,"c":0},{"m":10.3,"s":-1.1,"c":50},{"m":10.5,"s":-1.1,"c":50},{"m":10.7,"s":-1.1,"c":74},{"m":11.1,"s":-1.1,"c":63},
{"m":8.1,"s":-1.3,"c":0},{"m":8.3,"s":-1.3,"c":0},{"m":8.5,"s":-1.3,"c":0},{"m":8.7,"s":-1.3,"c":0},{"m":8.9,"s":-1.3,"c":0},{"m":9.1,"s":-1.3,"c":0},{"m":9.3,"s":-1.3,"c":0},{"m":9.5,"s":-1.3,"c":0},{"m":9.9,"s":-1.3,"c":33},{"m":10.5,"s":-1.3,"c":54},{"m":10.7,"s":-1.3,"c":62},
{"m":8.1,"s":-1.5,"c":0},{"m":8.3,"s":-1.5,"c":0},{"m":8.5,"s":-1.5,"c":0},{"m":8.7,"s":-1.5,"c":0},{"m":8.9,"s":-1.5,"c":0},{"m":9.5,"s":-1.5,"c":50},{"m":9.7,"s":-1.5,"c":33},{"m":10.1,"s":-1.5,"c":33},{"m":10.3,"s":-1.5,"c":74},{"m":10.7,"s":-1.5,"c":62},
{"m":8.5,"s":-1.7,"c":0},{"m":8.7,"s":-1.7,"c":0},{"m":8.9,"s":-1.7,"c":0},{"m":9.1,"s":-1.7,"c":0},{"m":9.3,"s":-1.7,"c":0},{"m":9.5,"s":-1.7,"c":0},{"m":9.7,"s":-1.7,"c":0},{"m":10.1,"s":-1.7,"c":0},{"m":10.3,"s":-1.7,"c":0},{"m":8.3,"s":-1.9,"c":0},{"m":10.3,"s":-1.9,"c":33}]},
"spacing":81,"bounds":"flush","hconcat":[{"width":36,"height":474,"data":{"name":"bar"},"resolve":{"axis":{"y":"independent"}},"layer":[{"mark":{"type":"rect","fill":{"gradient":"linear","x1":0,"y1":1,"x2":0,"y2":0,"stops":[{"offset":0,"color":"#000"},{"offset":0.2618,"color":"#0ff"},{"offset":0.5236,"color":"#00f"},{"offset":0.7853,"color":"#f0f"},{"offset":1,"color":"#f03"}]}},"encoding":{"x":{"field":"a","type":"quantitative","scale":{"domain":[0,1]},"axis":null},"x2":{"field":"b"},"y":{"field":"lo","type":"quantitative","scale":{"domain":[0,1]},"axis":{"orient":"left","tickCount":5,"tickSize":-7,"format":".1f","labelFlush":true,"labelPadding":14,"title":"Completeness","titlePadding":19}},"y2":{"field":"hi"}}},{"mark":{"type":"point","opacity":0},"encoding":{"x":{"field":"a","type":"quantitative","axis":null},"y":{"field":"lo","type":"quantitative","axis":{"orient":"right","tickCount":5,"tickSize":-7,"labels":false,"title":null}}}},{"mark":{"type":"point","opacity":0},"encoding":{"x":{"field":"a","type":"quantitative","axis":null},"y":{"field":"lo","type":"quantitative","axis":{"orient":"left","tickCount":10,"tickSize":-4,"labels":false,"title":null}}}},{"mark":{"type":"point","opacity":0},"encoding":{"x":{"field":"a","type":"quantitative","axis":null},"y":{"field":"lo","type":"quantitative","axis":{"orient":"right","tickCount":10,"tickSize":-4,"labels":false,"title":null}}}}]},
{"columns":4,"spacing":0,"bounds":"flush","concat":[
{"title":{"text":"COSMOS","offset":7},"width":236.5,"height":237,"data":{"name":"p1"},"resolve":{"axis":{"x":"independent","y":"independent"}},"layer":[{"mark":{"type":"rect","width":10.35,"height":8,"yOffset":0.8,"clip":true},"encoding":{"x":{"field":"m","type":"quantitative","scale":{"domain":[8,12.6],"nice":false},"axis":{"orient":"bottom","tickCount":5,"tickSize":-7,"labels":false,"title":null}},"y":{"field":"s","type":"quantitative","scale":{"domain":[-2,4],"nice":false},"axis":{"orient":"left","tickCount":6,"tickSize":-7,"format":"d","labelFlush":true,"labelPadding":14,"title":"log(SFR)\u00a0\u00a0[M⊙/yr]","titlePadding":18}},"color":{"field":"c","type":"quantitative","scale":{"domain":[0,25,50,75,95.5],"range":["#000","#0ff","#00f","#f0f","#f03"],"interpolate":"rgb","nice":false,"zero":false},"legend":null}}},{"data":{"name":"lt"},"mark":{"type":"line","color":"#000","strokeWidth":2.5},"encoding":{"x":{"field":"m","type":"quantitative","axis":{"orient":"top","tickCount":5,"tickSize":-7,"labels":false,"title":null}},"y":{"field":"s","type":"quantitative","axis":{"orient":"right","tickCount":6,"tickSize":-7,"labels":false,"title":null}}}},{"data":{"name":"o"},"mark":{"type":"point","opacity":0},"encoding":{"x":{"field":"m","type":"quantitative","axis":{"orient":"bottom","tickCount":23,"tickSize":-3,"labels":false,"title":null}},"y":{"field":"s","type":"quantitative","axis":{"orient":"left","tickCount":30,"tickSize":-3,"labels":false,"title":null}}}},{"data":{"name":"o"},"mark":{"type":"point","opacity":0},"encoding":{"x":{"field":"m","type":"quantitative","axis":{"orient":"top","tickCount":23,"tickSize":-3,"labels":false,"title":null}},"y":{"field":"s","type":"quantitative","axis":{"orient":"right","tickCount":30,"tickSize":-3,"labels":false,"title":null}}}}]},
{"title":{"text":"UDS","offset":7},"width":236.5,"height":237,"data":{"name":"p3"},"resolve":{"axis":{"x":"independent","y":"independent"}},"layer":[{"mark":{"type":"rect","width":10.35,"height":8,"yOffset":0.8,"clip":true},"encoding":{"x":{"field":"m","type":"quantitative","scale":{"domain":[8,12.6],"nice":false},"axis":{"orient":"bottom","tickCount":5,"tickSize":-7,"labels":false,"title":null}},"y":{"field":"s","type":"quantitative","scale":{"domain":[-2,4],"nice":false},"axis":{"orient":"left","tickCount":6,"tickSize":-7,"labels":false,"title":null}},"color":{"field":"c","type":"quantitative","scale":{"domain":[0,25,50,75,95.5],"range":["#000","#0ff","#00f","#f0f","#f03"],"interpolate":"rgb","nice":false,"zero":false},"legend":null}}},{"data":{"name":"lt"},"mark":{"type":"line","color":"#000","strokeWidth":2.5},"encoding":{"x":{"field":"m","type":"quantitative","axis":{"orient":"top","tickCount":5,"tickSize":-7,"labels":false,"title":null}},"y":{"field":"s","type":"quantitative","axis":{"orient":"right","tickCount":6,"tickSize":-7,"labels":false,"title":null}}}},{"data":{"name":"o"},"mark":{"type":"point","opacity":0},"encoding":{"x":{"field":"m","type":"quantitative","axis":{"orient":"bottom","tickCount":23,"tickSize":-3,"labels":false,"title":null}},"y":{"field":"s","type":"quantitative","axis":{"orient":"left","tickCount":30,"tickSize":-3,"labels":false,"title":null}}}},{"data":{"name":"o"},"mark":{"type":"point","opacity":0},"encoding":{"x":{"field":"m","type":"quantitative","axis":{"orient":"top","tickCount":23,"tickSize":-3,"labels":false,"title":null}},"y":{"field":"s","type":"quantitative","axis":{"orient":"right","tickCount":30,"tickSize":-3,"labels":false,"title":null}}}}]},
{"title":{"text":"GOODS-S","offset":7},"width":236.5,"height":237,"data":{"name":"p5"},"resolve":{"axis":{"x":"independent","y":"independent"}},"layer":[{"mark":{"type":"rect","width":10.35,"height":8,"yOffset":0.8,"clip":true},"encoding":{"x":{"field":"m","type":"quantitative","scale":{"domain":[8,12.6],"nice":false},"axis":{"orient":"bottom","tickCount":5,"tickSize":-7,"labels":false,"title":null}},"y":{"field":"s","type":"quantitative","scale":{"domain":[-2,4],"nice":false},"axis":{"orient":"left","tickCount":6,"tickSize":-7,"labels":false,"title":null}},"color":{"field":"c","type":"quantitative","scale":{"domain":[0,25,50,75,95.5],"range":["#000","#0ff","#00f","#f0f","#f03"],"interpolate":"rgb","nice":false,"zero":false},"legend":null}}},{"data":{"name":"lt"},"mark":{"type":"line","color":"#000","strokeWidth":2.5},"encoding":{"x":{"field":"m","type":"quantitative","axis":{"orient":"top","tickCount":5,"tickSize":-7,"labels":false,"title":null}},"y":{"field":"s","type":"quantitative","axis":{"orient":"right","tickCount":6,"tickSize":-7,"labels":false,"title":null}}}},{"data":{"name":"o"},"mark":{"type":"point","opacity":0},"encoding":{"x":{"field":"m","type":"quantitative","axis":{"orient":"bottom","tickCount":23,"tickSize":-3,"labels":false,"title":null}},"y":{"field":"s","type":"quantitative","axis":{"orient":"left","tickCount":30,"tickSize":-3,"labels":false,"title":null}}}},{"data":{"name":"o"},"mark":{"type":"point","opacity":0},"encoding":{"x":{"field":"m","type":"quantitative","axis":{"orient":"top","tickCount":23,"tickSize":-3,"labels":false,"title":null}},"y":{"field":"s","type":"quantitative","axis":{"orient":"right","tickCount":30,"tickSize":-3,"labels":false,"title":null}}}}]},
{"title":{"text":"GOODS-N","offset":7},"width":236.5,"height":237,"data":{"name":"p7"},"resolve":{"axis":{"x":"independent","y":"independent"}},"layer":[{"mark":{"type":"rect","width":10.35,"height":8,"yOffset":0.8,"clip":true},"encoding":{"x":{"field":"m","type":"quantitative","scale":{"domain":[8,12.6],"nice":false},"axis":{"orient":"bottom","tickCount":5,"tickSize":-7,"labels":false,"title":null}},"y":{"field":"s","type":"quantitative","scale":{"domain":[-2,4],"nice":false},"axis":{"orient":"left","tickCount":6,"tickSize":-7,"labels":false,"title":null}},"color":{"field":"c","type":"quantitative","scale":{"domain":[0,25,50,75,95.5],"range":["#000","#0ff","#00f","#f0f","#f03"],"interpolate":"rgb","nice":false,"zero":false},"legend":null}}},{"data":{"name":"lt"},"mark":{"type":"line","color":"#000","strokeWidth":2.5},"encoding":{"x":{"field":"m","type":"quantitative","axis":{"orient":"top","tickCount":5,"tickSize":-7,"labels":false,"title":null}},"y":{"field":"s","type":"quantitative","axis":{"orient":"right","tickCount":6,"tickSize":-7,"labels":false,"title":"0.5\u00a0\u00a0<\u00a0\u00a0z\u00a0\u00a0<\u00a0\u00a01.5","titleFontSize":16,"titleAngle":270,"titleY":133,"titlePadding":19}}}},{"data":{"name":"o"},"mark":{"type":"point","opacity":0},"encoding":{"x":{"field":"m","type":"quantitative","axis":{"orient":"bottom","tickCount":23,"tickSize":-3,"labels":false,"title":null}},"y":{"field":"s","type":"quantitative","axis":{"orient":"left","tickCount":30,"tickSize":-3,"labels":false,"title":null}}}},{"data":{"name":"o"},"mark":{"type":"point","opacity":0},"encoding":{"x":{"field":"m","type":"quantitative","axis":{"orient":"top","tickCount":23,"tickSize":-3,"labels":false,"title":null}},"y":{"field":"s","type":"quantitative","axis":{"orient":"right","tickCount":30,"tickSize":-3,"labels":false,"title":null}}}}]},
{"width":236.5,"height":237,"data":{"name":"p2"},"resolve":{"axis":{"x":"independent","y":"independent"}},"layer":[{"mark":{"type":"rect","width":10.35,"height":8,"yOffset":0.8,"clip":true},"encoding":{"x":{"field":"m","type":"quantitative","scale":{"domain":[8,12.6],"nice":false},"axis":{"orient":"bottom","tickCount":5,"tickSize":-7,"format":"d","labelFlush":false,"labelPadding":21,"title":"log(M)\u00a0\u00a0[M⊙]","titlePadding":9}},"y":{"field":"s","type":"quantitative","scale":{"domain":[-2,4],"nice":false},"axis":{"orient":"left","tickCount":6,"tickSize":-7,"format":"d","labelFlush":true,"labelPadding":14,"title":"log(SFR)\u00a0\u00a0[M⊙/yr]","titlePadding":18}},"color":{"field":"c","type":"quantitative","scale":{"domain":[0,25,50,75,95.5],"range":["#000","#0ff","#00f","#f0f","#f03"],"interpolate":"rgb","nice":false,"zero":false},"legend":null}}},{"data":{"name":"lb"},"mark":{"type":"line","color":"#000","strokeWidth":2.5},"encoding":{"x":{"field":"m","type":"quantitative","axis":{"orient":"top","tickCount":5,"tickSize":-7,"labels":false,"title":null}},"y":{"field":"s","type":"quantitative","axis":{"orient":"right","tickCount":6,"tickSize":-7,"labels":false,"title":null}}}},{"data":{"name":"o"},"mark":{"type":"point","opacity":0},"encoding":{"x":{"field":"m","type":"quantitative","axis":{"orient":"bottom","tickCount":23,"tickSize":-3,"labels":false,"title":null}},"y":{"field":"s","type":"quantitative","axis":{"orient":"left","tickCount":30,"tickSize":-3,"labels":false,"title":null}}}},{"data":{"name":"o"},"mark":{"type":"point","opacity":0},"encoding":{"x":{"field":"m","type":"quantitative","axis":{"orient":"top","tickCount":23,"tickSize":-3,"labels":false,"title":null}},"y":{"field":"s","type":"quantitative","axis":{"orient":"right","tickCount":30,"tickSize":-3,"labels":false,"title":null}}}}]},
{"width":236.5,"height":237,"data":{"name":"p4"},"resolve":{"axis":{"x":"independent","y":"independent"}},"layer":[{"mark":{"type":"rect","width":10.35,"height":8,"yOffset":0.8,"clip":true},"encoding":{"x":{"field":"m","type":"quantitative","scale":{"domain":[8,12.6],"nice":false},"axis":{"orient":"bottom","tickCount":5,"tickSize":-7,"format":"d","labelFlush":false,"labelPadding":21,"title":"log(M)\u00a0\u00a0[M⊙]","titlePadding":9}},"y":{"field":"s","type":"quantitative","scale":{"domain":[-2,4],"nice":false},"axis":{"orient":"left","tickCount":6,"tickSize":-7,"labels":false,"title":null}},"color":{"field":"c","type":"quantitative","scale":{"domain":[0,25,50,75,95.5],"range":["#000","#0ff","#00f","#f0f","#f03"],"interpolate":"rgb","nice":false,"zero":false},"legend":null}}},{"data":{"name":"lb"},"mark":{"type":"line","color":"#000","strokeWidth":2.5},"encoding":{"x":{"field":"m","type":"quantitative","axis":{"orient":"top","tickCount":5,"tickSize":-7,"labels":false,"title":null}},"y":{"field":"s","type":"quantitative","axis":{"orient":"right","tickCount":6,"tickSize":-7,"labels":false,"title":null}}}},{"data":{"name":"o"},"mark":{"type":"point","opacity":0},"encoding":{"x":{"field":"m","type":"quantitative","axis":{"orient":"bottom","tickCount":23,"tickSize":-3,"labels":false,"title":null}},"y":{"field":"s","type":"quantitative","axis":{"orient":"left","tickCount":30,"tickSize":-3,"labels":false,"title":null}}}},{"data":{"name":"o"},"mark":{"type":"point","opacity":0},"encoding":{"x":{"field":"m","type":"quantitative","axis":{"orient":"top","tickCount":23,"tickSize":-3,"labels":false,"title":null}},"y":{"field":"s","type":"quantitative","axis":{"orient":"right","tickCount":30,"tickSize":-3,"labels":false,"title":null}}}}]},
{"width":236.5,"height":237,"data":{"name":"p6"},"resolve":{"axis":{"x":"independent","y":"independent"}},"layer":[{"mark":{"type":"rect","width":10.35,"height":8,"yOffset":0.8,"clip":true},"encoding":{"x":{"field":"m","type":"quantitative","scale":{"domain":[8,12.6],"nice":false},"axis":{"orient":"bottom","tickCount":5,"tickSize":-7,"format":"d","labelFlush":false,"labelPadding":21,"title":"log(M)\u00a0\u00a0[M⊙]","titlePadding":9}},"y":{"field":"s","type":"quantitative","scale":{"domain":[-2,4],"nice":false},"axis":{"orient":"left","tickCount":6,"tickSize":-7,"labels":false,"title":null}},"color":{"field":"c","type":"quantitative","scale":{"domain":[0,25,50,75,95.5],"range":["#000","#0ff","#00f","#f0f","#f03"],"interpolate":"rgb","nice":false,"zero":false},"legend":null}}},{"data":{"name":"lb"},"mark":{"type":"line","color":"#000","strokeWidth":2.5},"encoding":{"x":{"field":"m","type":"quantitative","axis":{"orient":"top","tickCount":5,"tickSize":-7,"labels":false,"title":null}},"y":{"field":"s","type":"quantitative","axis":{"orient":"right","tickCount":6,"tickSize":-7,"labels":false,"title":null}}}},{"data":{"name":"o"},"mark":{"type":"point","opacity":0},"encoding":{"x":{"field":"m","type":"quantitative","axis":{"orient":"bottom","tickCount":23,"tickSize":-3,"labels":false,"title":null}},"y":{"field":"s","type":"quantitative","axis":{"orient":"left","tickCount":30,"tickSize":-3,"labels":false,"title":null}}}},{"data":{"name":"o"},"mark":{"type":"point","opacity":0},"encoding":{"x":{"field":"m","type":"quantitative","axis":{"orient":"top","tickCount":23,"tickSize":-3,"labels":false,"title":null}},"y":{"field":"s","type":"quantitative","axis":{"orient":"right","tickCount":30,"tickSize":-3,"labels":false,"title":null}}}}]},
{"width":236.5,"height":237,"data":{"name":"p8"},"resolve":{"axis":{"x":"independent","y":"independent"}},"layer":[{"mark":{"type":"rect","width":10.35,"height":8,"yOffset":0.8,"clip":true},"encoding":{"x":{"field":"m","type":"quantitative","scale":{"domain":[8,12.6],"nice":false},"axis":{"orient":"bottom","tickCount":5,"tickSize":-7,"format":"d","labelFlush":false,"labelPadding":21,"title":"log(M)\u00a0\u00a0[M⊙]","titlePadding":9}},"y":{"field":"s","type":"quantitative","scale":{"domain":[-2,4],"nice":false},"axis":{"orient":"left","tickCount":6,"tickSize":-7,"labels":false,"title":null}},"color":{"field":"c","type":"quantitative","scale":{"domain":[0,25,50,75,95.5],"range":["#000","#0ff","#00f","#f0f","#f03"],"interpolate":"rgb","nice":false,"zero":false},"legend":null}}},{"data":{"name":"lb"},"mark":{"type":"line","color":"#000","strokeWidth":2.5},"encoding":{"x":{"field":"m","type":"quantitative","axis":{"orient":"top","tickCount":5,"tickSize":-7,"labels":false,"title":null}},"y":{"field":"s","type":"quantitative","axis":{"orient":"right","tickCount":6,"tickSize":-7,"labels":false,"title":"1.5\u00a0\u00a0<\u00a0\u00a0z\u00a0\u00a0<\u00a0\u00a02.5","titleFontSize":16,"titleAngle":270,"titleY":133,"titlePadding":19}}}},{"data":{"name":"o"},"mark":{"type":"point","opacity":0},"encoding":{"x":{"field":"m","type":"quantitative","axis":{"orient":"bottom","tickCount":23,"tickSize":-3,"labels":false,"title":null}},"y":{"field":"s","type":"quantitative","axis":{"orient":"left","tickCount":30,"tickSize":-3,"labels":false,"title":null}}}},{"data":{"name":"o"},"mark":{"type":"point","opacity":0},"encoding":{"x":{"field":"m","type":"quantitative","axis":{"orient":"top","tickCount":23,"tickSize":-3,"labels":false,"title":null}},"y":{"field":"s","type":"quantitative","axis":{"orient":"right","tickCount":30,"tickSize":-3,"labels":false,"title":null}}}}]}
]}]}
